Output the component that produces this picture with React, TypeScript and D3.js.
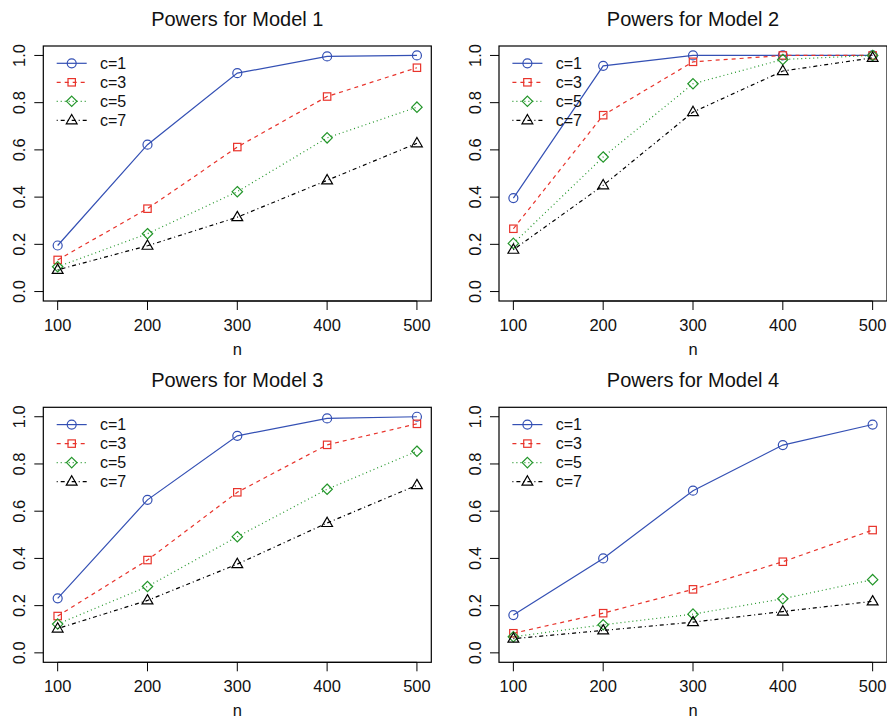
import React from "react";
import * as d3 from "d3";

const nValues = [100, 200, 300, 400, 500];
const seriesLabels = ["c=1", "c=3", "c=5", "c=7"];
const yTicks = [0, 0.2, 0.4, 0.6, 0.8, 1.0];
const titles = ["Powers for Model 1", "Powers for Model 2", "Powers for Model 3", "Powers for Model 4"];

const model1 = [
  [0.195, 0.622, 0.925, 0.996, 1.0],
  [0.134, 0.351, 0.612, 0.826, 0.948],
  [0.105, 0.245, 0.423, 0.651, 0.781],
  [0.092, 0.194, 0.315, 0.471, 0.628],
];
const model2 = [
  [0.396, 0.956, 1.0, 1.0, 1.0],
  [0.266, 0.747, 0.973, 1.0, 1.0],
  [0.204, 0.57, 0.88, 0.983, 1.0],
  [0.177, 0.45, 0.76, 0.934, 0.99],
];
const model3 = [
  [0.231, 0.648, 0.919, 0.993, 1.0],
  [0.156, 0.393, 0.68, 0.881, 0.97],
  [0.122, 0.281, 0.492, 0.693, 0.854],
  [0.103, 0.222, 0.376, 0.55, 0.71],
];
const model4 = [
  [0.16, 0.4, 0.687, 0.88, 0.967],
  [0.083, 0.168, 0.269, 0.386, 0.52],
  [0.068, 0.119, 0.164, 0.229, 0.31],
  [0.06, 0.095, 0.13, 0.175, 0.218],
];
const models = [model1, model2, model3, model4];

const colors = ["#3450b4", "#e8332b", "#23962a", "#000000"];
const dashes = ["", "4,4", "1,3", "1,3,4,3"];
const FONT = "'Liberation Sans', Arial, Helvetica, sans-serif";

const boxLefts = [43.3, 499];
const boxTops = [46, 407.3];
const boxW = 388;
const boxH = 255;

function Marker({ kind, x, y, color }: { kind: number; x: number; y: number; color: string }) {
  const sw = 1.2;
  if (kind === 0) return <circle cx={x} cy={y} r={4.5} fill="none" stroke={color} strokeWidth={sw} />;
  if (kind === 1) return <rect x={x - 3.7} y={y - 3.7} width={7.4} height={7.4} fill="none" stroke={color} strokeWidth={sw} />;
  if (kind === 2) {
    const s = 5.2;
    return <path d={`M${x},${y - s}L${x + s},${y}L${x},${y + s}L${x - s},${y}Z`} fill="none" stroke={color} strokeWidth={sw} />;
  }
  const h = 5.8;
  return <path d={`M${x},${y - h}L${x + 5.4},${y + 3.5}L${x - 5.4},${y + 3.5}Z`} fill="none" stroke={color} strokeWidth={sw} />;
}

function Panel({ idx }: { idx: number }) {
  const col = idx % 2;
  const row = Math.floor(idx / 2);
  const left = boxLefts[col];
  const top = boxTops[row];
  const right = left + boxW;
  const bottom = top + boxH;
  const x = d3.scaleLinear().domain([84, 516]).range([left, right]);
  const y = d3.scaleLinear().domain([-0.04, 1.04]).range([bottom, top]);
  const data = models[idx];
  const line = d3
    .line<number>()
    .x((_, i) => x(nValues[i]))
    .y((d) => y(d));
  const tick = 9;
  return (
    <g>
      <text x={(left + right) / 2} y={top - 20} textAnchor="middle" fontSize={20} fontFamily={FONT} fill="#111">
        {titles[idx]}
      </text>
      {/* x axis */}
      <line x1={x(100)} x2={x(500)} y1={bottom} y2={bottom} stroke="#000" strokeWidth={1} />
      {nValues.map((v) => (
        <g key={"xt" + v}>
          <line x1={x(v)} x2={x(v)} y1={bottom} y2={bottom + tick} stroke="#000" strokeWidth={1} />
          <text x={x(v)} y={bottom + 30} textAnchor="middle" fontSize={16.5} fontFamily={FONT} fill="#111">
            {v}
          </text>
        </g>
      ))}
      <text x={(left + right) / 2} y={bottom + 54} textAnchor="middle" fontSize={16.5} fontFamily={FONT} fill="#111">
        n
      </text>
      {/* y axis */}
      {yTicks.map((v) => (
        <g key={"yt" + v}>
          <line x1={left - tick} x2={left} y1={y(v)} y2={y(v)} stroke="#000" strokeWidth={1} />
          <text
            transform={`translate(${left - 18.3},${y(v)}) rotate(-90)`}
            textAnchor="middle"
            fontSize={16.5}
            fontFamily={FONT}
            fill="#111"
          >
            {v.toFixed(1)}
          </text>
        </g>
      ))}
      {/* series */}
      {data.map((s, si) => (
        <g key={"s" + si}>
          <path d={line(s) || ""} fill="none" stroke={colors[si]} strokeWidth={1.2} strokeDasharray={dashes[si]} />
          {s.map((v, i) => (
            <Marker key={i} kind={si} x={x(nValues[i])} y={y(v)} color={colors[si]} />
          ))}
        </g>
      ))}
      {/* legend */}
      {seriesLabels.map((lab, si) => {
        const ly = top + 17.3 + si * 19;
        return (
          <g key={"lg" + si}>
            <line x1={left + 13.4} x2={left + 43.4} y1={ly} y2={ly} stroke={colors[si]} strokeWidth={1.2} strokeDasharray={dashes[si]} />
            <Marker kind={si} x={left + 28.4} y={ly} color={colors[si]} />
            <text x={left + 56.7} y={ly + 5.8} fontSize={16} fontFamily={FONT} fill="#111">
              {lab}
            </text>
          </g>
        );
      })}
      <rect x={left} y={top} width={boxW} height={boxH} fill="none" stroke="#000" strokeWidth={1.2} />
    </g>
  );
}

export default function App() {
  return (
    <svg width={887} height={719} style={{ position: "absolute", left: 0, top: 0, background: "#fff" }}>
      <rect x={0} y={0} width={887} height={719} fill="#fff" />
      {[0, 1, 2, 3].map((i) => (
        <Panel key={i} idx={i} />
      ))}
    </svg>
  );
}
